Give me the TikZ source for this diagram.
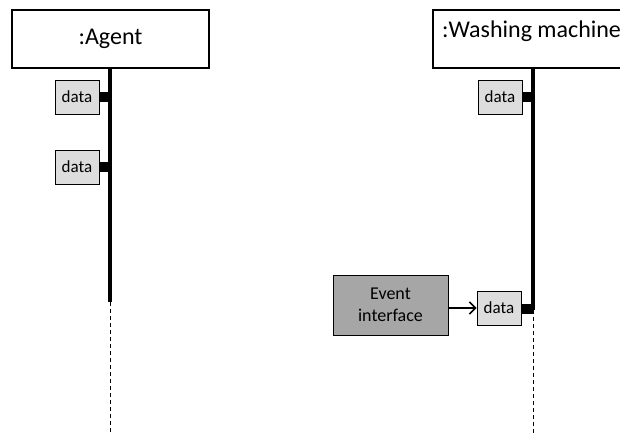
\documentclass[tikz,border=0pt]{standalone}
\usepackage{fontspec}
\setmainfont{Carlito}
\usetikzlibrary{arrows.meta}

\definecolor{datagray}{HTML}{DDDDDD}
\definecolor{eventgray}{HTML}{A6A6A6}

\tikzset{
  lifebox/.style={draw, line width=1.2pt, fill=white, minimum width=197pt, minimum height=58pt, inner sep=0pt, font=\fontsize{24}{26}\selectfont},
  databox/.style={draw, line width=1pt, fill=datagray, minimum width=44pt, minimum height=34pt, inner sep=0pt, font=\fontsize{17}{19}\selectfont},
  pin/.style={fill=black, minimum width=11pt, minimum height=10pt, inner sep=0pt},
  lifeline/.style={line width=3.5pt},
  tail/.style={line width=1pt, dash pattern=on 4pt off 3pt}
}

\begin{document}
\begin{tikzpicture}[x=1pt,y=-1pt]
\clip (0,0) rectangle (620,434);
\fill[white] (0,0) rectangle (620,434);

% agent side
\node[lifebox] (agent) at (110.5,39) {:Agent};
\coordinate (agentend) at (110,302);
\coordinate (agentbot) at (110,434);
\draw[lifeline] (agent.south -| agentend) -- (agentend);
\draw[tail] (agentend) -- (agentbot);
\node[databox] (data1) at (77,97) {data};
\node[databox] (data2) at (77,167) {data};
\node[pin, anchor=west] (pin1) at (data1.east) {};
\node[pin, anchor=west] (pin2) at (data2.east) {};

% washing machine side
\node[lifebox] (wm) at (531.5,39) {};
\node[anchor=west, font=\fontsize{24}{26}\selectfont, inner sep=0pt] (wmtext) at (442,31) {:Washing machine};
\coordinate (wmend) at (533,310);
\coordinate (wmbot) at (533,434);
\draw[lifeline] (wm.south -| wmend) -- (wmend);
\draw[tail] (wmend) -- (wmbot);
\node[databox] (data3) at (500,97) {data};
\node[databox] (data4) at (499,308) {data};
\node[pin, anchor=west] (pin3) at (data3.east) {};
\node[pin, anchor=west, minimum width=12pt] (pin4) at ([yshift=-1pt]data4.east) {};

\node[draw, line width=1pt, fill=eventgray, minimum width=115pt, minimum height=60pt, align=center, font=\fontsize{18}{22}\selectfont] (event) at (390.5,305) {Event\\interface};
\draw[-{Straight Barb[length=6pt,width=12pt]}, line width=1.5pt] (event.east |- data4.west) -- (data4.west);
\end{tikzpicture}
\end{document}
